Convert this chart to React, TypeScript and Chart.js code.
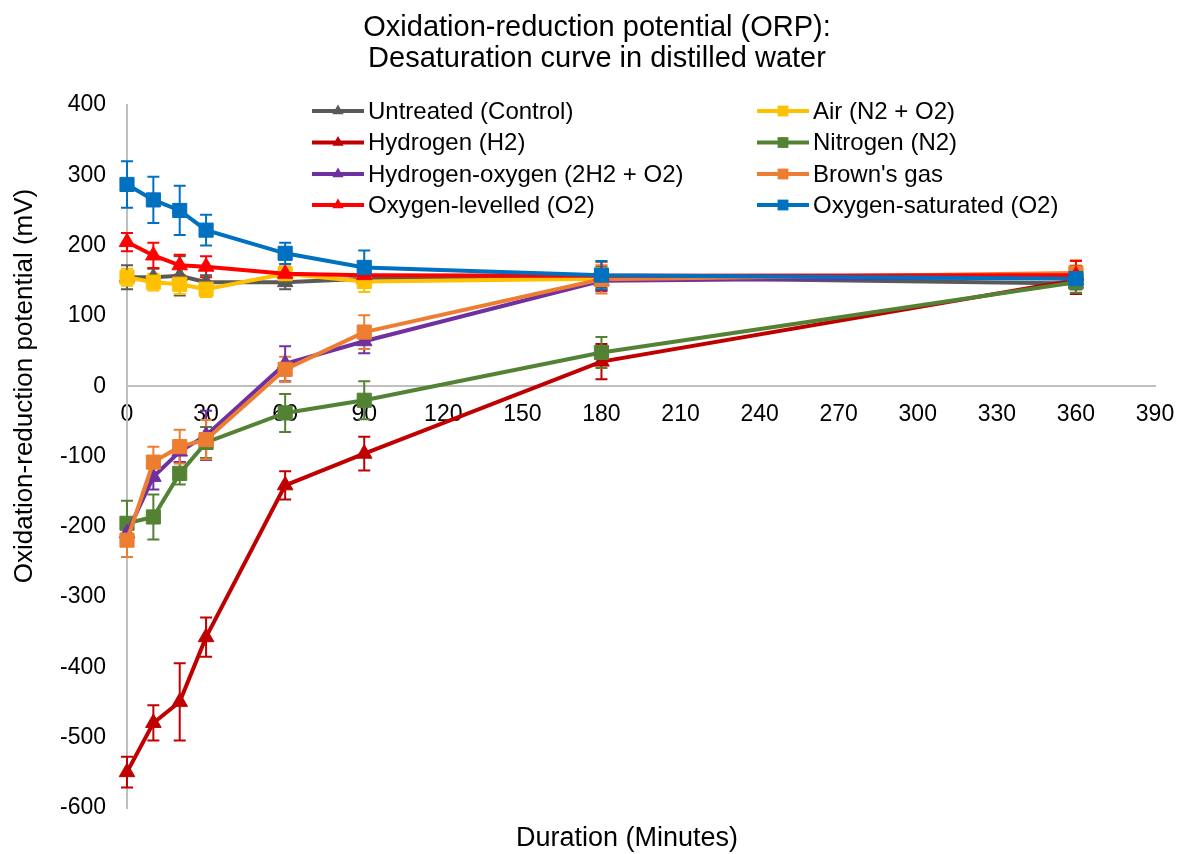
import React, { useEffect, useRef } from 'react';
import { Chart, registerables } from 'chart.js';

Chart.register(...registerables);

const FONT = '"Liberation Sans", Arial, Helvetica, sans-serif';

const titleLines = ['Oxidation-reduction potential (ORP):', 'Desaturation curve in distilled water'];
const xTitle = 'Duration (Minutes)';
const yTitle = 'Oxidation-reduction potential (mV)';

const minutes = [0, 10, 20, 30, 60, 90, 180, 360];

const seriesNames = [
  'Untreated (Control)',
  'Air (N2 + O2)',
  'Hydrogen (H2)',
  'Nitrogen (N2)',
  'Hydrogen-oxygen (2H2 + O2)',
  "Brown's gas",
  'Oxygen-levelled (O2)',
  'Oxygen-saturated (O2)',
];

const untreated = [155, 155, 157, 148, 148, 153, 155, 146];
const untreatedErr = [17, 12, 28, 10, 10, 12, 15, 15];
const air = [155, 148, 145, 138, 160, 149, 153, 157];
const airErr = [12, 12, 14, 11, 10, 15, 15, 15];
const hydrogen = [-549, -479, -449, -357, -141, -96, 35, 151];
const hydrogenErr = [22, 25, 55, 28, 20, 24, 25, 20];
const nitrogen = [-195, -186, -124, -80, -38, -20, 48, 148];
const nitrogenErr = [32, 32, 16, 22, 27, 27, 22, 15];
const hydrogenOxygen = [-209, -129, -93, -70, 32, 64, 150, 156];
const hydrogenOxygenErr = [10, 18, 15, 35, 25, 17, 15, 15];
const brownsGas = [-219, -108, -86, -76, 24, 77, 152, 161];
const brownsGasErr = [24, 22, 24, 28, 18, 24, 20, 18];
const oxygenLevelled = [205, 186, 172, 170, 160, 158, 157, 158];
const oxygenLevelledErr = [13, 18, 15, 15, 10, 10, 20, 20];
const oxygenSaturated = [287, 265, 250, 222, 189, 169, 158, 153];
const oxygenSaturatedErr = [33, 33, 35, 22, 15, 24, 20, 15];

const seriesValues = [untreated, air, hydrogen, nitrogen, hydrogenOxygen, brownsGas, oxygenLevelled, oxygenSaturated];
const seriesErrors = [untreatedErr, airErr, hydrogenErr, nitrogenErr, hydrogenOxygenErr, brownsGasErr, oxygenLevelledErr, oxygenSaturatedErr];
const seriesColors = ['#595959', '#FFC000', '#C00000', '#548235', '#7030A0', '#ED7D31', '#FF0000', '#0070C0'];
const seriesMarkers = ['triangle', 'rect', 'triangle', 'rect', 'triangle', 'rect', 'triangle', 'rect'];

const xTicks = { min: 0, max: 390, step: 30 };
const yTicks = { min: -600, max: 400, step: 100 };

function drawMarker(ctx: CanvasRenderingContext2D, style: string, x: number, y: number, r: number) {
  ctx.beginPath();
  if (style === 'triangle') {
    for (let k = 0; k < 3; k++) {
      const a = (k * 2 * Math.PI) / 3;
      const px = x + Math.sin(a) * r;
      const py = y - Math.cos(a) * r;
      if (k === 0) ctx.moveTo(px, py);
      else ctx.lineTo(px, py);
    }
    ctx.closePath();
  } else {
    ctx.rect(x - r * 0.72, y - r * 0.72, r * 1.44, r * 1.44);
  }
  ctx.fill();
}

const errorBarPlugin = {
  id: 'errorBars',
  beforeDatasetsDraw(chart: any) {
    const ctx: CanvasRenderingContext2D = chart.ctx;
    const xs = chart.scales.x;
    const ys = chart.scales.y;
    seriesValues.forEach((vals, i) => {
      const errs = seriesErrors[i];
      ctx.save();
      ctx.strokeStyle = seriesColors[i];
      ctx.lineWidth = 2;
      vals.forEach((v, j) => {
        const x = xs.getPixelForValue(minutes[j]);
        const yt = ys.getPixelForValue(v + errs[j]);
        const yb = ys.getPixelForValue(v - errs[j]);
        ctx.beginPath();
        ctx.moveTo(x, yt);
        ctx.lineTo(x, yb);
        ctx.moveTo(x - 6, yt);
        ctx.lineTo(x + 6, yt);
        ctx.moveTo(x - 6, yb);
        ctx.lineTo(x + 6, yb);
        ctx.stroke();
      });
      ctx.restore();
    });
  },
};

const textPlugin = {
  id: 'texts',
  afterDraw(chart: any) {
    const ctx: CanvasRenderingContext2D = chart.ctx;
    const area = chart.chartArea;
    ctx.save();
    ctx.fillStyle = '#000000';
    ctx.textBaseline = 'middle';
    ctx.textAlign = 'center';
    // title
    ctx.font = `29px ${FONT}`;
    titleLines.forEach((t, k) => ctx.fillText(t, 597, 28 + k * 31));
    // x title
    ctx.font = `27px ${FONT}`;
    ctx.fillText(xTitle, (area.left + area.right) / 2 - 14, 839);
    // y title
    ctx.save();
    ctx.translate(25, 386);
    ctx.rotate(-Math.PI / 2);
    ctx.font = `26px ${FONT}`;
    ctx.fillText(yTitle, 0, 0);
    ctx.restore();
    // legend
    ctx.textAlign = 'left';
    ctx.font = `24px ${FONT}`;
    const colX = [312, 757];
    const rowY = [111, 142.5, 174, 205];
    seriesNames.forEach((name, k) => {
      const x0 = colX[k % 2];
      const y0 = rowY[Math.floor(k / 2)];
      ctx.strokeStyle = seriesColors[k];
      ctx.fillStyle = seriesColors[k];
      ctx.lineWidth = 4;
      ctx.beginPath();
      ctx.moveTo(x0, y0);
      ctx.lineTo(x0 + 52, y0);
      ctx.stroke();
      drawMarker(ctx, seriesMarkers[k], x0 + 26, y0, seriesMarkers[k] === 'triangle' ? 6.5 : 7.5);
      ctx.fillStyle = '#000000';
      ctx.fillText(name, x0 + 56, y0 + 1);
    });
    ctx.restore();
  },
};

export default function App() {
  const canvasRef = useRef<HTMLCanvasElement>(null);

  useEffect(() => {
    document.body.style.margin = '0';
    const canvas = canvasRef.current;
    if (!canvas) return;
    const datasets = seriesValues.map((vals, i) => ({
      label: seriesNames[i],
      data: vals.map((v, j) => ({ x: minutes[j], y: v })),
      borderColor: seriesColors[i],
      backgroundColor: seriesColors[i],
      pointBackgroundColor: seriesColors[i],
      pointBorderColor: seriesColors[i],
      borderWidth: 4,
      pointStyle: seriesMarkers[i],
      pointRadius: seriesMarkers[i] === 'triangle' ? 9 : 10,
      pointBorderWidth: 1,
      tension: 0,
      fill: false,
      clip: false as any,
      order: seriesValues.length - 1 - i,
    }));
    const chart = new Chart(canvas, {
      type: 'line',
      data: { datasets },
      options: {
        responsive: false,
        animation: false,
        layout: { padding: { left: 0, right: 24, top: 105, bottom: 46 } },
        plugins: {
          legend: { display: false },
          title: { display: false },
          tooltip: { enabled: false },
        },
        scales: {
          x: {
            type: 'linear',
            position: { y: 0 } as any,
            min: xTicks.min,
            max: xTicks.max,
            grid: { display: false, drawTicks: false },
            border: { display: true, color: '#BFBFBF', width: 2 },
            ticks: {
              stepSize: xTicks.step,
              padding: 3,
              color: '#000000',
              font: { family: FONT, size: 23, lineHeight: 2.2 },
              maxRotation: 0,
              autoSkip: false,
            },
          },
          y: {
            type: 'linear',
            min: yTicks.min,
            max: yTicks.max,
            grid: { display: false, drawTicks: false },
            border: { display: true, color: '#BFBFBF', width: 2 },
            ticks: {
              stepSize: yTicks.step,
              padding: 21,
              color: '#000000',
              font: { family: FONT, size: 23 },
            },
            afterFit: (scale: any) => {
              scale.width = 127;
            },
          },
        },
      },
      plugins: [errorBarPlugin, textPlugin],
    });
    return () => chart.destroy();
  }, []);

  return (
    <div style={{ width: 1179, height: 854 }}>
      <canvas ref={canvasRef} width={1179} height={854} style={{ display: 'block' }} />
    </div>
  );
}
